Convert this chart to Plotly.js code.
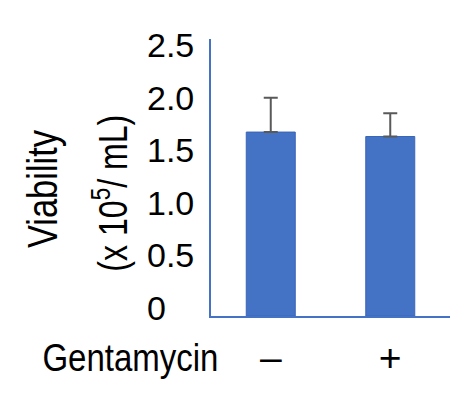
<!DOCTYPE html>
<html>
<head>
<meta charset="utf-8">
<script src="https://cdn.plot.ly/plotly-3.0.1.min.js"></script>
<style>html,body{margin:0;padding:0;background:#fff;}#chart{width:468px;height:393px;}</style>
</head>
<body>
<div id="chart"></div>
<script>
// ---- data ----
const categories = ['\u2013', '+'];
const viability = [1.66, 1.62];
const errorUp = [0.31, 0.21];
const errorDown = [0, 0];
const yTickVals = [0, 0.5, 1.0, 1.5, 2.0, 2.5];
const yTickText = ['0', '0.5', '1.0', '1.5', '2.0', '2.5'];
const xLabel = 'Gentamycin';
const yTitleLine1 = 'Viability';
const yTitleLine2 = '(x 10<sup>5</sup>/ mL)';

// ---- layout helpers ----
const W = 468, H = 393;
const M = {l: 140, r: 18, t: 39, b: 77, pad: 0};
const pw = W - M.l - M.r, ph = H - M.t - M.b;
const px = x => (x - M.l) / pw;          // pixel x -> paper x
const py = y => (H - M.b - y) / ph;      // pixel y -> paper y

const blue = '#4472C4';
const regular = '"Liberation Sans", Arial, sans-serif';

const bars = {
  type: 'bar',
  x: categories,
  y: viability,
  marker: {color: blue, line: {color: '#3A66B8', width: 1}},
  error_y: {type: 'data', symmetric: false, array: errorUp, arrayminus: errorDown,
            color: '#595959', thickness: 2, width: 7},
  hoverinfo: 'skip'
};
// empty trace so the label-only axis (yaxis2) is drawn
const labelAxisHolder = {type: 'scatter', x: [], y: [], yaxis: 'y2', hoverinfo: 'skip', showlegend: false};

const layout = {
  width: W, height: H,
  margin: M,
  paper_bgcolor: '#fff', plot_bgcolor: '#fff',
  showlegend: false,
  bargap: 0.59,
  xaxis: {
    type: 'category', domain: [px(211), 1], anchor: 'y',
    showline: true, linecolor: blue, linewidth: 2,
    ticks: '', showgrid: false, zeroline: false,
    tickfont: {family: regular, size: 39, color: '#000'},
    ticklabelstandoff: 6,
    fixedrange: true
  },
  yaxis: {
    range: [0, 2.5], anchor: 'x',
    showline: true, linecolor: blue, linewidth: 2,
    showticklabels: false, ticks: '', showgrid: false, zeroline: false,
    fixedrange: true
  },
  yaxis2: {
    overlaying: 'y', anchor: 'free', position: px(146), side: 'right',
    range: [-0.076, 2.558],
    tickmode: 'array', tickvals: yTickVals, ticktext: yTickText,
    showline: false, showgrid: false, zeroline: false, ticks: '',
    tickfont: {family: regular, size: 34, color: '#000'},
    fixedrange: true
  },
  annotations: [
    {text: xLabel, xref: 'paper', yref: 'paper', x: px(130), y: py(358),
     xanchor: 'center', yanchor: 'middle', showarrow: false,
     font: {family: regular, size: 38, color: '#000'}},
    {text: yTitleLine1, xref: 'paper', yref: 'paper', x: px(43), y: py(189),
     xanchor: 'center', yanchor: 'middle', showarrow: false, textangle: -90,
     font: {family: regular, size: 42, color: '#000'}},
    {text: yTitleLine2, xref: 'paper', yref: 'paper', x: px(110), y: py(193),
     xanchor: 'center', yanchor: 'middle', showarrow: false, textangle: -90,
     font: {family: regular, size: 40, color: '#000'}}
  ]
};

// condensed look of the reference titles: squeeze glyphs along the reading direction
const titleLengths = [176, 118, 157];

Plotly.newPlot('chart', [bars, labelAxisHolder], layout, {staticPlot: true, displayModeBar: false})
  .then(gd => {
    gd.querySelectorAll('.annotation').forEach(a => {
      const i = +a.getAttribute('data-index');
      const t = a.querySelector('text.annotation-text');
      if (t && titleLengths[i]) {
        t.setAttribute('textLength', titleLengths[i]);
        t.setAttribute('lengthAdjust', 'spacingAndGlyphs');
      }
    });
  });
</script>
</body>
</html>
